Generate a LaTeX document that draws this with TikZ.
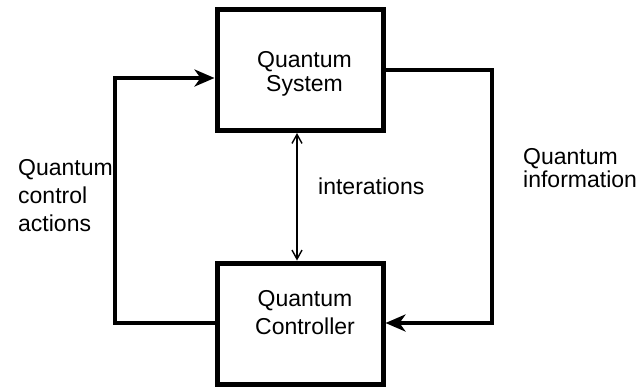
\documentclass[tikz,border=0pt]{standalone}
\usepackage{fontspec}
\setmainfont{Liberation Sans}
\usetikzlibrary{arrows.meta}
\begin{document}
\begin{tikzpicture}[x=1pt,y=-1pt,
  blockbox/.style={draw,line width=5pt,minimum width=166pt,minimum height=121pt,inner sep=0pt},
  thickline/.style={line width=4.5pt},
  bigtip/.style={-{Stealth[length=20pt,width=17pt,inset=6pt]}},
  label/.style={font=\fontsize{23}{25}\selectfont,inner sep=0pt},
  midlabel/.style={label,anchor=base},
  leftlabel/.style={label,anchor=base west}]
\useasboundingbox (0,0) rectangle (641,389);
% the two blocks
\node[blockbox] (sys) at (300,70) {};
\node[blockbox] (ctl) at (300,323.5) {};
\node[midlabel] (sys1) at (304.5,67) {Quantum};
\node[midlabel] (sys2) at (304.5,91) {System};
\node[midlabel] (ctl1) at (305,306) {Quantum};
\node[midlabel] (ctl2) at (305,334) {Controller};
% control actions: from the controller back up to the system
\coordinate (lb) at (115,323);
\coordinate (lt) at (115,78);
\draw[thickline,bigtip] (ctl.west |- lb) -- (lb) -- (lt) -- (sys.west |- lt);
% measured information: from the system down to the controller
\coordinate (rt) at (492,70);
\coordinate (rb) at (492,323);
\draw[thickline,bigtip] (sys.east |- rt) -- (rt) -- (rb) -- (ctl.east |- rb);
% interaction between the two
\draw[line width=1.4pt,{Straight Barb[length=9pt,width=10pt]}-{Straight Barb[length=9pt,width=10pt]}]
  ([xshift=-3pt]sys.south) -- ([xshift=-3pt]ctl.north);
% side labels
\node[leftlabel] (int) at (318,194) {interations};
\node[leftlabel] (qca1) at (18,175) {Quantum};
\node[leftlabel] (qca2) at (18,203) {control};
\node[leftlabel] (qca3) at (18,231) {actions};
\node[leftlabel] (qi1) at (523,164) {Quantum};
\node[leftlabel] (qi2) at (523,187) {information};
\end{tikzpicture}
\end{document}
